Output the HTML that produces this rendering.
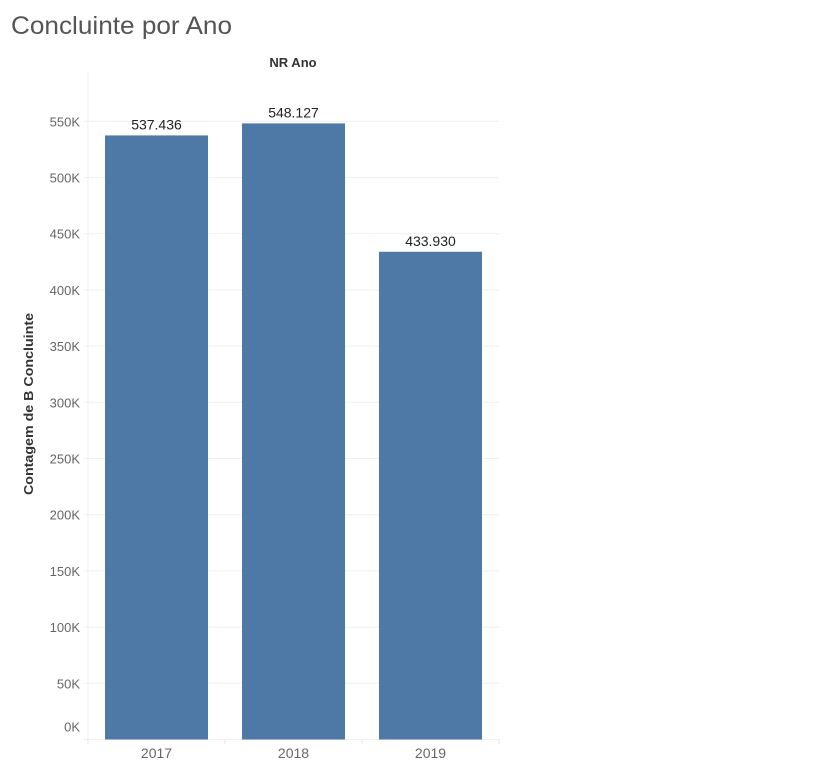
<!DOCTYPE html>
<html><head><meta charset="utf-8"><style>
body{margin:0;background:#fff;font-family:"Liberation Sans",sans-serif}
</style></head><body>
<svg width="833" height="772" id="c">
<text x="11" y="34" font-size="25" fill="#555" textLength="221" lengthAdjust="spacingAndGlyphs">Concluinte por Ano</text>
<text x="293" y="67" font-size="13" fill="#333" font-weight="bold" text-anchor="middle">NR Ano</text>
<text transform="translate(33,404) rotate(-90)" font-size="13" fill="#333" font-weight="bold" text-anchor="middle" textLength="182" lengthAdjust="spacingAndGlyphs">Contagem de B Concluinte</text>
<g id="grid"></g><g id="bars"></g>
</svg>
<script>
const categories=["2017","2018","2019"];
const values=[537436,548127,433930];
const valueLabels=["537.436","548.127","433.930"];
const ticks=[0,50000,100000,150000,200000,250000,300000,350000,400000,450000,500000,550000];
const tickLabels=["0K","50K","100K","150K","200K","250K","300K","350K","400K","450K","500K","550K"];
const NS="http://www.w3.org/2000/svg";
const svg=document.getElementById('c');
const y0=739.5,pxPer=56.2/50000;
const y=v=>y0-v*pxPer;
const x0=88,cw=137;
function mk(t,a,p){const e=document.createElementNS(NS,t);for(const k in a)e.setAttribute(k,a[k]);(p||svg).appendChild(e);return e;}
const g=document.getElementById('grid'),b=document.getElementById('bars');
ticks.forEach((t,i)=>{
 const l=mk('line',{x1:84,x2:499,y1:y(t),y2:y(t),stroke:"#efefef"},g);
 
 
 const ty=i===0?y(t)-8:y(t)+5;
 const tx=mk('text',{x:80,y:ty,"font-size":13,fill:"#666","text-anchor":"end"},g);
 tx.textContent=tickLabels[i];
 
 
});
const ax=mk('line',{x1:x0,x2:x0,y1:71,y2:y0,stroke:"#efefef"},g);


for(let i=0;i<=categories.length;i++){
 const tk=mk('line',{x1:x0+i*cw,x2:x0+i*cw,y1:y0,y2:y0+5,stroke:"#e6e6e6"},g);
 
 
}
categories.forEach((c,i)=>{
 const bx=x0+i*cw+17,bw=103;
 const r=mk('rect',{x:bx,y:y(values[i]),width:bw,height:y0-y(values[i]),fill:"#4e79a7"},b);
 
 
 const vl=mk('text',{x:bx+bw/2,y:y(values[i])-6,"font-size":14,fill:"#222","text-anchor":"middle"},b);
 vl.textContent=valueLabels[i];
 
 
 const xl=mk('text',{x:bx+bw/2,y:758,"font-size":14,fill:"#666","text-anchor":"middle"},b);
 xl.textContent=c;
 
 
});
</script>
</body></html>
